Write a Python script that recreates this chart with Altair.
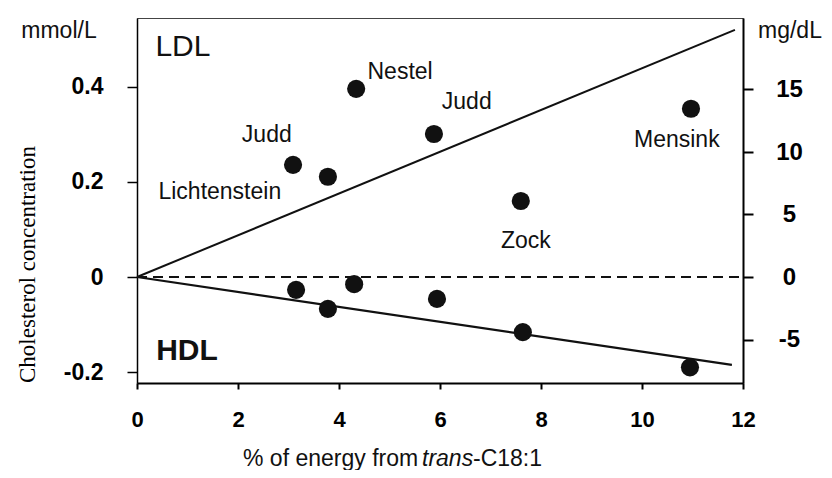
import altair as alt
import pandas as pd

# ---- data ----
ldl_x = [3.09, 3.78, 4.34, 5.88, 7.60, 10.97]
ldl_y = [0.236, 0.211, 0.396, 0.301, 0.160, 0.354]
hdl_x = [3.15, 3.78, 4.30, 5.94, 7.64, 10.95]
hdl_y = [-0.027, -0.067, -0.015, -0.046, -0.116, -0.190]

ldl_line_x = [0, 11.84]
ldl_line_y = [0, 0.52]
hdl_line_x = [0, 11.78]
hdl_line_y = [0, -0.185]

study_names = ["Nestel", "Judd", "Lichtenstein", "Judd", "Mensink", "Zock"]
study_x = [5.21, 2.57, 1.64, 6.53, 10.69, 7.70]
study_y = [0.432, 0.299, 0.179, 0.368, 0.288, 0.076]

x_ticks = [0, 2, 4, 6, 8, 10, 12]
left_ticks = [0.4, 0.2, 0, -0.2]
right_ticks = [-5, 0, 5, 10, 15]
x_domain = [0, 12]
left_domain = [-0.223, 0.545]
right_domain = [-8.48, 20.72]

W, H = 606, 365
FONT = "Liberation Sans"

x_enc = alt.X(
    "x:Q",
    scale=alt.Scale(domain=x_domain, nice=False, zero=False),
    axis=alt.Axis(
        values=x_ticks, title=None, grid=False,
        labelFontSize=22, labelFontWeight="bold", labelFlush=False,
        labelPadding=20, tickSize=6, tickWidth=2, domainWidth=2,
        format="d",
    ),
)

y_left = alt.Y(
    "y:Q",
    scale=alt.Scale(domain=left_domain, nice=False, zero=False),
    axis=alt.Axis(
        values=left_ticks, grid=False, orient="left",
        labelExpr="datum.value < 0 ? '-' + format(-datum.value, '.1f') : (datum.value == 0 ? '0' : format(datum.value, '.1f'))",
        labelFontSize=23, labelFontWeight="bold", labelPadding=24,
        labelBaseline="middle",
        tickSize=10, tickWidth=1.5, domainWidth=1.5,
        title="Cholesterol concentration",
        titleFont="Liberation Serif", titleFontSize=23, titleFontWeight="normal",
        titleAngle=270, titleX=-110, titleY=246, titleAlign="center",
        titleBaseline="middle", titleColor="black",
    ),
)

pts = pd.DataFrame({"x": ldl_x + hdl_x, "y": ldl_y + hdl_y})
points = alt.Chart(pts).mark_circle(size=330, color="#111", opacity=1).encode(x=x_enc, y=y_left)

ldl_df = pd.DataFrame({"x": ldl_line_x, "y": ldl_line_y})
hdl_df = pd.DataFrame({"x": hdl_line_x, "y": hdl_line_y})
ldl_line = alt.Chart(ldl_df).mark_line(color="#111", strokeWidth=2).encode(x=x_enc, y=y_left)
hdl_line = alt.Chart(hdl_df).mark_line(color="#111", strokeWidth=2.2).encode(x=x_enc, y=y_left)

names_df = pd.DataFrame({"x": study_x, "y": study_y, "t": study_names})
names = alt.Chart(names_df).mark_text(
    font=FONT, fontSize=23, color="#111", align="center", baseline="middle"
).encode(x=x_enc, y=y_left, text="t:N")

ldl_lab = alt.Chart(pd.DataFrame({"x": [0.91], "y": [0.484], "t": ["LDL"]})).mark_text(
    font=FONT, fontSize=30, color="#111", align="center", baseline="middle"
).encode(x=x_enc, y=y_left, text="t:N")
hdl_lab = alt.Chart(pd.DataFrame({"x": [0.99], "y": [-0.156], "t": ["HDL"]})).mark_text(
    font=FONT, fontSize=30, fontWeight="bold", color="#111", align="center", baseline="middle"
).encode(x=x_enc, y=y_left, text="t:N")

unit_df = pd.DataFrame({"t": ["mmol/L"]})
mmol = alt.Chart(unit_df).mark_text(
    font=FONT, fontSize=23, color="#111", align="center", baseline="alphabetic"
).encode(x=alt.value(-78), y=alt.value(20), text="t:N")
mgdl = alt.Chart(pd.DataFrame({"t": ["mg/dL"]})).mark_text(
    font=FONT, fontSize=23, color="#111", align="left", baseline="alphabetic"
).encode(x=alt.value(621), y=alt.value(20), text="t:N")

title_parts = ["% of energy from", "trans", "-C18:1"]
t1 = alt.Chart(pd.DataFrame({"t": [title_parts[0]]})).mark_text(
    font=FONT, fontSize=23, color="#111", align="left", baseline="alphabetic"
).encode(x=alt.value(106), y=alt.value(448), text="t:N")
t2 = alt.Chart(pd.DataFrame({"t": [title_parts[1]]})).mark_text(
    font=FONT, fontSize=23, fontStyle="italic", color="#111", align="left", baseline="alphabetic"
).encode(x=alt.value(285), y=alt.value(448), text="t:N")
t3 = alt.Chart(pd.DataFrame({"t": [title_parts[2]]})).mark_text(
    font=FONT, fontSize=23, color="#111", align="left", baseline="alphabetic"
).encode(x=alt.value(336), y=alt.value(448), text="t:N")

left = alt.layer(ldl_line, hdl_line, points, names, ldl_lab, hdl_lab, mmol, mgdl, t1, t2, t3)

zero_df = pd.DataFrame({"x": [x_domain[0]], "x2": [x_domain[1]], "y": [0]})
right = alt.Chart(zero_df).mark_rule(color="#111", strokeWidth=2, strokeDash=[10, 6]).encode(
    x=x_enc,
    x2="x2:Q",
    y=alt.Y(
        "y:Q",
        scale=alt.Scale(domain=right_domain, nice=False, zero=False),
        axis=alt.Axis(
            orient="right", values=right_ticks, grid=False, title=None,
            labelExpr="datum.value < 0 ? '-' + format(-datum.value, 'd') : format(datum.value, 'd')",
            labelFontSize=24, labelFontWeight="bold", labelAlign="center",
            labelBaseline="middle", labelPadding=36,
            tickSize=10, tickWidth=2, domainWidth=2,
        ),
    ),
)

chart = alt.layer(left, right).resolve_scale(y="independent").properties(
    width=W, height=H,
    autosize="none",
    padding={"left": 129, "top": 10, "right": 81, "bottom": 87},
    background="white",
).configure_view(stroke="#444", strokeWidth=1).configure_axis(
    labelFont=FONT, domainColor="black", tickColor="black", labelColor="black",
)

chart.save("out.html", embed_options={"renderer": "svg", "actions": False})
